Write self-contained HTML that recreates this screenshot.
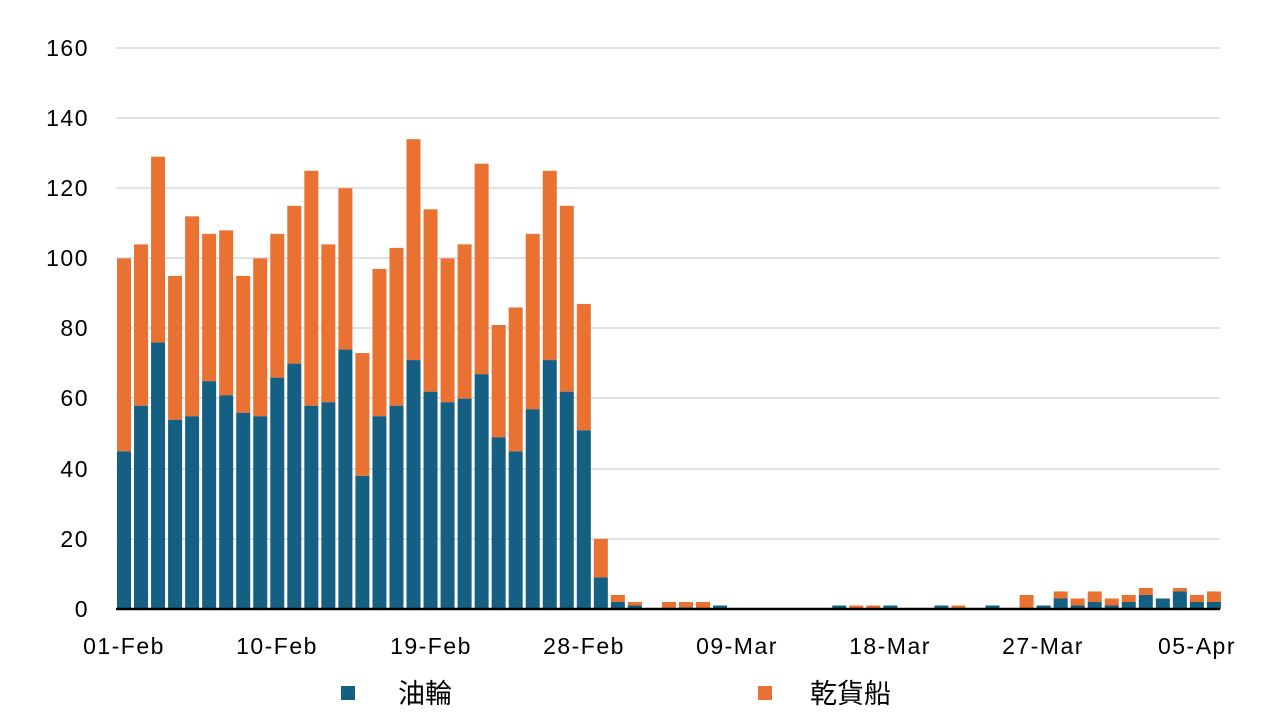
<!DOCTYPE html>
<html><head><meta charset="utf-8"><style>
body{margin:0;background:#fff;}
svg{display:block;font-family:"Liberation Sans","Noto Sans CJK TC",sans-serif;}
</style></head><body>
<svg id="c" width="1280" height="720" xmlns="http://www.w3.org/2000/svg">
<g stroke="#d9d9d9" stroke-width="1.5">
<line x1="116" x2="1220" y1="48" y2="48"/>
<line x1="116" x2="1220" y1="118" y2="118"/>
<line x1="116" x2="1220" y1="188" y2="188"/>
<line x1="116" x2="1220" y1="258" y2="258"/>
<line x1="116" x2="1220" y1="328" y2="328"/>
<line x1="116" x2="1220" y1="398" y2="398"/>
<line x1="116" x2="1220" y1="469" y2="469"/>
<line x1="116" x2="1220" y1="539" y2="539"/>
</g>
<g id="bars"></g>
<line x1="116" x2="1220" y1="609" y2="609" stroke="#000" stroke-width="2.5"/>
<g font-size="23" fill="#000" text-anchor="end" letter-spacing="1.5">
<text x="89" y="56">160</text>
<text x="89" y="126">140</text>
<text x="89" y="196">120</text>
<text x="89" y="266">100</text>
<text x="89" y="336">80</text>
<text x="89" y="406">60</text>
<text x="89" y="477">40</text>
<text x="89" y="547">20</text>
<text x="89" y="617">0</text>
</g>
<g font-size="23" fill="#000" text-anchor="middle" letter-spacing="1.5">
<text x="124" y="654">01-Feb</text>
<text x="277" y="654">10-Feb</text>
<text x="431" y="654">19-Feb</text>
<text x="584" y="654">28-Feb</text>
<text x="737" y="654">09-Mar</text>
<text x="890" y="654">18-Mar</text>
<text x="1043" y="654">27-Mar</text>
<text x="1197" y="654">05-Apr</text>
</g>
<rect x="341" y="686" width="14" height="14" fill="#156082"/>
<text x="398" y="703" font-size="27">油輪</text>
<rect x="758" y="686" width="14" height="14" fill="#e97132"/>
<text x="810" y="703" font-size="27">乾貨船</text>
</svg>
<script>
var d=[[45,100],[58,104],[76,129],[54,95],[55,112],[65,107],[61,108],[56,95],[55,100],[66,107],[70,115],[58,125],[59,104],[74,120],[38,73],[55,97],[58,103],[71,134],[62,114],[59,100],[60,104],[67,127],[49,81],[45,86],[57,107],[71,125],[62,115],[51,87],
[9,20],[2,4],[1,2],[0,0],[0,2],[0.5,2],[0,2],[1,1],[0,0],[0,0],[0,0],[0,0],[0,0],[0,0],[1,1],[0,1],[0,1],[1,1],[0,0],[0,0],[1,1],[0,1],[0,0],[1,1],[0,0],[0,4],[1,1],[3,5],[1,3],[2,5],[1,3],[2,4],[4,6],[3,3],[5,6],[2,4],[2,5]];
var s="",k=3.506;
d.forEach(function(v,i){var x=124+17.03*i-7;
if(v[0]>0)s+='<rect x="'+x+'" y="'+(609-v[0]*k)+'" width="14" height="'+v[0]*k+'" fill="#156082"/>';
if(v[1]>v[0])s+='<rect x="'+x+'" y="'+(609-v[1]*k)+'" width="14" height="'+(v[1]-v[0])*k+'" fill="#e97132"/>';});
document.getElementById("bars").innerHTML=s;
</script>
</body></html>
